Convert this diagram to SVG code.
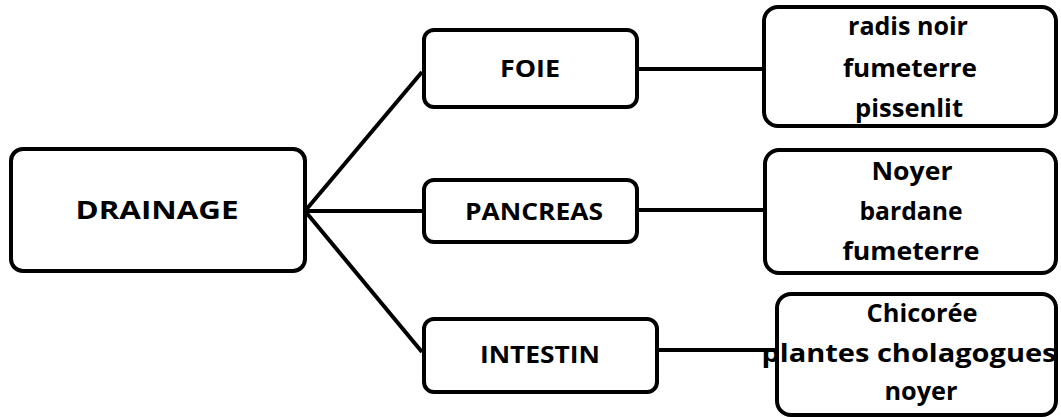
<svg xmlns="http://www.w3.org/2000/svg" width="1061" height="417" viewBox="0 0 1061 417">
<style>
.box{fill:#fff;stroke:#000;stroke-width:4}
.conn{stroke:#000;stroke-width:4;fill:none}
text{font-family:"Open Sans","Liberation Sans",sans-serif;font-weight:bold;fill:#000;text-anchor:middle}
.big{font-size:25px}
.mid{font-size:24px}
.small{font-size:25px}
</style>
<rect width="1061" height="417" fill="#fff"/>
<g id="connectors">
<line class="conn" x1="305" y1="211" x2="422" y2="72"/>
<line class="conn" x1="305" y1="211" x2="424" y2="211"/>
<line class="conn" x1="305" y1="211" x2="422" y2="352"/>
<line class="conn" x1="637" y1="69" x2="764" y2="69"/>
<line class="conn" x1="637" y1="210" x2="765" y2="210"/>
<line class="conn" x1="657" y1="350" x2="777" y2="350"/>
</g>
<g id="drainage">
<rect class="box" x="11" y="149" width="294" height="122" rx="12"/>
<text class="big" x="157" y="219" textLength="163" lengthAdjust="spacingAndGlyphs">DRAINAGE</text>
</g>
<g id="foie">
<rect class="box" x="424" y="30" width="213" height="77" rx="10"/>
<text class="mid" x="530" y="77" textLength="60" lengthAdjust="spacingAndGlyphs">FOIE</text>
</g>
<g id="pancreas">
<rect class="box" x="424" y="180" width="213" height="62" rx="10"/>
<text class="mid" x="534" y="220" textLength="138" lengthAdjust="spacingAndGlyphs">PANCREAS</text>
</g>
<g id="intestin">
<rect class="box" x="424" y="319" width="233" height="73" rx="10"/>
<text class="mid" x="540" y="363" textLength="120" lengthAdjust="spacingAndGlyphs">INTESTIN</text>
</g>
<g id="foie-plantes">
<rect class="box" x="764" y="7" width="292" height="119" rx="14"/>
<text class="small" x="908" y="35" textLength="120" lengthAdjust="spacingAndGlyphs">radis noir</text>
<text class="small" x="910" y="77" textLength="134" lengthAdjust="spacingAndGlyphs">fumeterre</text>
<text class="small" x="909" y="117" textLength="108" lengthAdjust="spacingAndGlyphs">pissenlit</text>
</g>
<g id="pancreas-plantes">
<rect class="box" x="765" y="150" width="291" height="123" rx="14"/>
<text class="small" x="912" y="180" textLength="81" lengthAdjust="spacingAndGlyphs">Noyer</text>
<text class="small" x="911" y="220" textLength="103" lengthAdjust="spacingAndGlyphs">bardane</text>
<text class="small" x="911" y="260" textLength="137" lengthAdjust="spacingAndGlyphs">fumeterre</text>
</g>
<g id="intestin-plantes">
<rect class="box" x="777" y="294" width="279" height="121" rx="14"/>
<text class="small" x="922" y="322" textLength="111" lengthAdjust="spacingAndGlyphs">Chicorée</text>
<text class="small" x="909" y="362" textLength="295" lengthAdjust="spacingAndGlyphs">plantes cholagogues</text>
<text class="small" x="921" y="400" textLength="73" lengthAdjust="spacingAndGlyphs">noyer</text>
</g>
</svg>
